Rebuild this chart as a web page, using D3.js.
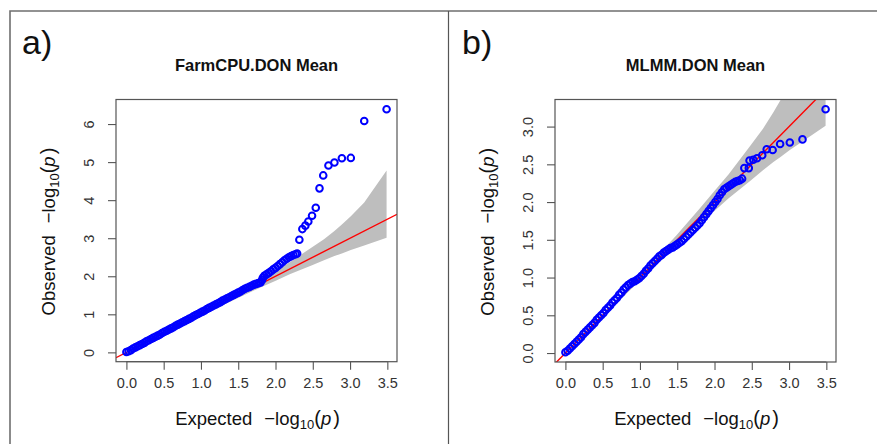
<!DOCTYPE html>
<meta charset="utf-8">
<script src="https://cdn.jsdelivr.net/npm/d3@7"></script>
<style>
	body { margin: 0; background: #fff; }
	svg { display: block; font-family: "Liberation Sans", Arial, sans-serif; }
</style>
<div id="vis-qq"></div>
<script>
	// FarmCPU points (expected, observed)
	const farmExpected = [0.00, 0.03, 0.06, 0.09, 0.12, 0.15, 0.18, 0.21, 0.24, 0.27, 0.30, 0.33, 0.36, 0.39, 0.42, 0.45, 0.48, 0.51, 0.54, 0.57,
		0.60, 0.63, 0.66, 0.69, 0.72, 0.75, 0.78, 0.81, 0.84, 0.87, 0.90, 0.93, 0.96, 0.99, 1.02, 1.05, 1.08, 1.11, 1.14, 1.17,
		1.20, 1.23, 1.26, 1.29, 1.32, 1.35, 1.38, 1.41, 1.44, 1.47, 1.50, 1.53, 1.56, 1.59, 1.62, 1.65, 1.68, 1.71, 1.74, 1.77,
		1.80, 1.82, 1.83, 1.85, 1.88, 1.91, 1.94, 1.97, 2.00, 2.03, 2.06, 2.09, 2.12, 2.15, 2.18, 2.21, 2.24, 2.27, 2.29,
		2.32, 2.36, 2.40, 2.44, 2.49, 2.54, 2.59, 2.64, 2.71, 2.79, 2.89, 3.01, 3.19, 3.49]
	const farmObserved = [0.01, 0.03, 0.06, 0.10, 0.13, 0.16, 0.19, 0.22, 0.25, 0.29, 0.32, 0.35, 0.38, 0.41, 0.44, 0.47, 0.51, 0.54, 0.57, 0.60,
		0.63, 0.66, 0.70, 0.73, 0.76, 0.79, 0.82, 0.85, 0.88, 0.91, 0.95, 0.98, 1.01, 1.04, 1.07, 1.10, 1.14, 1.17, 1.20, 1.23,
		1.26, 1.29, 1.32, 1.36, 1.39, 1.42, 1.45, 1.48, 1.51, 1.54, 1.57, 1.60, 1.64, 1.67, 1.70, 1.72, 1.75, 1.78, 1.80, 1.82,
		1.84, 1.90, 1.96, 2.01, 2.05, 2.09, 2.13, 2.18, 2.22, 2.27, 2.32, 2.37, 2.42, 2.46, 2.50, 2.53, 2.56, 2.58, 2.60,
		2.96, 3.24, 3.33, 3.44, 3.59, 3.80, 4.31, 4.65, 4.91, 4.99, 5.10, 5.11, 6.08, 6.39]

	// MLMM points (expected, observed)
	const mlmmExpected = [0.00, 0.03, 0.06, 0.09, 0.12, 0.15, 0.18, 0.21, 0.24, 0.27, 0.30, 0.33, 0.36, 0.39, 0.42, 0.45, 0.48, 0.51, 0.54, 0.57,
		0.60, 0.63, 0.66, 0.69, 0.72, 0.75, 0.78, 0.81, 0.84, 0.87, 0.90, 0.93, 0.96, 0.99, 1.02, 1.05, 1.08, 1.11, 1.14, 1.17,
		1.20, 1.23, 1.26, 1.29, 1.32, 1.35, 1.38, 1.41, 1.44, 1.47, 1.50, 1.53, 1.56, 1.59, 1.62, 1.65, 1.68, 1.71, 1.74, 1.77,
		1.80, 1.83, 1.86, 1.89, 1.92, 1.95, 1.98, 2.01, 2.04, 2.07, 2.10, 2.13, 2.16, 2.19, 2.22, 2.25, 2.28, 2.31, 2.34, 2.37,
		2.40, 2.46, 2.47, 2.52, 2.57, 2.64, 2.70, 2.78, 2.88, 3.01, 3.18, 3.49]
	const mlmmObserved = [0.01, 0.03, 0.06, 0.09, 0.12, 0.15, 0.18, 0.21, 0.25, 0.28, 0.31, 0.34, 0.37, 0.40, 0.44, 0.47, 0.50, 0.53, 0.57, 0.60,
		0.63, 0.67, 0.70, 0.73, 0.77, 0.80, 0.84, 0.87, 0.90, 0.92, 0.94, 0.95, 0.97, 0.99, 1.02, 1.05, 1.09, 1.12, 1.16, 1.19,
		1.22, 1.25, 1.28, 1.30, 1.33, 1.35, 1.37, 1.39, 1.40, 1.42, 1.44, 1.46, 1.48, 1.51, 1.54, 1.57, 1.60, 1.63, 1.66, 1.69,
		1.72, 1.76, 1.80, 1.84, 1.88, 1.92, 1.96, 2.00, 2.04, 2.09, 2.13, 2.17, 2.19, 2.21, 2.23, 2.25, 2.27, 2.28, 2.29, 2.31,
		2.45, 2.45, 2.55, 2.56, 2.58, 2.62, 2.70, 2.69, 2.77, 2.79, 2.83, 3.23]

	// confidence band (same number of markers in both runs)
	const bandExpected = [0.00, 0.49, 0.79, 1.19, 1.49, 1.79, 2.01, 2.19, 2.49, 2.65, 2.79, 2.89, 3.01, 3.19, 3.49]
	const bandLower = [0.00, 0.47, 0.76, 1.14, 1.42, 1.70, 1.89, 2.05, 2.29, 2.42, 2.53, 2.60, 2.69, 2.81, 3.01]
	const bandUpper = [0.00, 0.51, 0.82, 1.24, 1.56, 1.90, 2.16, 2.37, 2.76, 2.97, 3.19, 3.36, 3.58, 3.94, 4.78]

	const ticksX = [0, 0.5, 1, 1.5, 2, 2.5, 3, 3.5]
	const farmTicksY = [0, 1, 2, 3, 4, 5, 6]
	const mlmmTicksY = [0, 0.5, 1, 1.5, 2, 2.5, 3]

	const width = 877, height = 444;

	const svg = d3.select("#vis-qq")
		.append("svg")
		.attr("width", width)
		.attr("height", height);

	// outer frame
	const frame = svg.append("g").attr("fill", "none")
	frame.append("path").attr("d", "M10,444V11H877").attr("stroke", "#6f6f6f").attr("stroke-width", 1.6)
	frame.append("path").attr("d", "M448.5,11V444").attr("stroke", "#555").attr("stroke-width", 1.2)

	// R style padding: 4% on each side
	function padded(vals) {
		let e = d3.extent(vals)
		let p = (e[1] - e[0]) * 0.04
		return [e[0] - p, e[1] + p]
	}

	function drawPanel(opts) {
		const g = svg.append("g")
		const x = d3.scaleLinear().domain(padded(opts.ex)).range([opts.left, opts.right])
		const y = d3.scaleLinear().domain(padded(opts.ob)).range([opts.bottom, opts.top])

		g.append("text")
			.attr("x", opts.labelX).attr("y", 54)
			.attr("font-size", 34).attr("fill", "#111")
			.text(opts.label)

		g.append("text")
			.attr("x", (opts.left + opts.right) / 2).attr("y", 71)
			.attr("text-anchor", "middle")
			.attr("font-size", 16.5).attr("font-weight", "bold").attr("fill", "#111")
			.text(opts.title)

		const clipId = "clip-" + opts.label.replace(")", "")
		g.append("clipPath").attr("id", clipId)
			.append("rect")
			.attr("x", opts.left).attr("y", opts.top)
			.attr("width", opts.right - opts.left).attr("height", opts.bottom - opts.top)

		const inner = g.append("g").attr("clip-path", "url(#" + clipId + ")")

		// band
		const band = d3.area()
			.x((d, i) => x(bandExpected[i]))
			.y0((d, i) => y(bandLower[i]))
			.y1((d, i) => y(bandUpper[i]))
		inner.append("path")
			.attr("d", band(bandExpected))
			.attr("fill", "#bebebe")

		// y = x reference line
		const dom = x.domain()
		inner.append("line")
			.attr("x1", x(dom[0])).attr("y1", y(dom[0]))
			.attr("x2", x(dom[1])).attr("y2", y(dom[1]))
			.attr("stroke", "#ff0000").attr("stroke-width", 1.4)

		// points
		inner.selectAll("circle").data(opts.ex)
			.enter()
			.append("circle")
			.attr("cx", d => x(d))
			.attr("cy", (d, i) => y(opts.ob[i]))
			.attr("r", 3.3)
			.attr("fill", "none")
			.attr("stroke", "#0000ff")
			.attr("stroke-width", 2)

		// box
		g.append("rect")
			.attr("x", opts.left).attr("y", opts.top)
			.attr("width", opts.right - opts.left).attr("height", opts.bottom - opts.top)
			.attr("fill", "none").attr("stroke", "#555").attr("stroke-width", 1.2)

		// x axis
		const ax = g.append("g").attr("transform", "translate(0," + opts.bottom + ")")
			.call(d3.axisBottom(x).tickValues(ticksX).tickSize(8).tickPadding(8).tickFormat(d3.format(".1f")))
		ax.select(".domain").attr("stroke", "#555").attr("d", "M" + x(0) + ",0H" + x(3.5))
		ax.selectAll(".tick line").attr("stroke", "#555").attr("stroke-width", 1.1)
		ax.selectAll("text").attr("font-size", 14.5).attr("fill", "#333").attr("font-family", null)

		// y axis
		const ay = g.append("g").attr("transform", "translate(" + opts.left + ",0)")
			.call(d3.axisLeft(y).tickValues(opts.ticksY).tickSize(8).tickFormat(opts.fmt))
		ay.select(".domain").remove()
		ay.selectAll(".tick line").attr("stroke", "#555").attr("stroke-width", 1.1)
		ay.selectAll("text")
			.attr("x", null).attr("dy", null)
			.attr("text-anchor", "middle")
			.attr("transform", "translate(-22,0) rotate(-90)")
			.attr("font-size", 14.5).attr("fill", "#333").attr("font-family", null)

		// axis titles
		const xt = g.append("text")
			.attr("x", (opts.left + opts.right) / 2 + 1).attr("y", 425)
			.attr("text-anchor", "middle").attr("font-size", 18.5).attr("fill", "#111")
		mathLabel(xt, "Expected")

		const yt = g.append("text")
			.attr("transform", "translate(" + (opts.left - 61) + "," + ((opts.top + opts.bottom) / 2 + 1) + ") rotate(-90)")
			.attr("text-anchor", "middle").attr("font-size", 18.5).attr("fill", "#111")
		mathLabel(yt, "Observed")
	}

	// "Word  -log10(p)" with subscript and italic p
	function mathLabel(t, word) {
		t.append("tspan").text(word)
		t.append("tspan").attr("dx", 12).text("\u2212log")
		t.append("tspan").attr("dy", 4).attr("font-size", 13).text("10")
		t.append("tspan").attr("dy", -4).attr("font-size", 20).text("(")
		t.append("tspan").attr("font-style", "italic").text("p")
		t.append("tspan").attr("dx", 2).attr("font-size", 20).text(")")
	}

	drawPanel({
		label: "a)", labelX: 22, title: "FarmCPU.DON Mean",
		left: 116, right: 397, top: 99.5, bottom: 361.7,
		ex: farmExpected, ob: farmObserved,
		ticksY: farmTicksY, fmt: d3.format("d")
	})

	drawPanel({
		label: "b)", labelX: 462, title: "MLMM.DON Mean",
		left: 555, right: 836, top: 99.5, bottom: 362,
		ex: mlmmExpected, ob: mlmmObserved,
		ticksY: mlmmTicksY, fmt: d3.format(".1f")
	})
</script>
